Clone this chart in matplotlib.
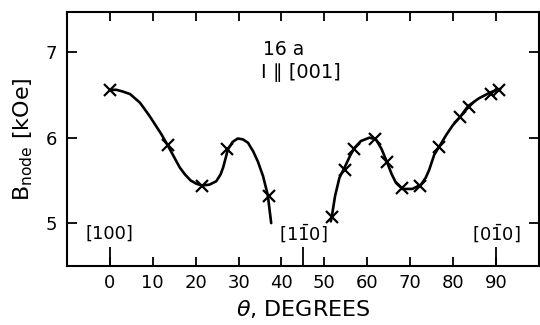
# B_node vs angle, sample 16a, I || [001]

import matplotlib
matplotlib.use("Agg")
import matplotlib.pyplot as plt

# measured points (x markers)
theta_pts = [0, 13.6, 21.4, 27.2, 37.0,
             51.7, 54.8, 57.0, 61.9, 64.7, 68.2, 72.2, 76.7, 81.6, 83.7, 88.8, 90.7]
B_pts = [6.56, 5.91, 5.44, 5.87, 5.32,
         5.07, 5.62, 5.87, 5.98, 5.72, 5.41, 5.43, 5.89, 6.24, 6.36, 6.51, 6.56]

# hand drawn curves
left_theta = [0, 1.5, 3.0, 4.7, 7, 9.3, 12.0, 13.6, 15.0, 16.3, 17.5, 18.8, 20.2, 21.5,
              23.2, 24.8, 25.8, 26.4, 27.5, 28.6, 29.8, 31.0, 32.2, 33.4, 34.5, 35.7,
              36.8, 37.6]
left_B = [6.56, 6.56, 6.54, 6.51, 6.41, 6.25, 6.04, 5.90, 5.77, 5.65, 5.57, 5.50, 5.46,
          5.44, 5.45, 5.49, 5.57, 5.65, 5.86, 5.95, 5.99, 5.98, 5.94, 5.84, 5.72, 5.55,
          5.33, 5.0]

right_theta = [51.5, 51.7, 52.5, 53.5, 54.7, 56.0, 57.0, 58.5, 60.5, 62.0, 63.3, 64.7,
               65.7, 66.7, 68.2, 70.5, 72.5, 73.6, 74.4, 75.6, 76.7, 78.5, 80.0, 81.6,
               83.5, 86.0, 88.7, 91.0]
right_B = [5.02, 5.07, 5.32, 5.53, 5.65, 5.79, 5.88, 5.96, 6.00, 5.98, 5.87, 5.70,
           5.57, 5.47, 5.40, 5.40, 5.45, 5.53, 5.62, 5.80, 5.89, 6.04, 6.15, 6.24,
           6.37, 6.46, 6.53, 6.57]

x_ticks = [0, 10, 20, 30, 40, 50, 60, 70, 80, 90]
y_ticks = [5, 6, 7]
dir_pos = [0, 45, 90]
dir_labels = ['[100]', r'[1$\bar{1}$0]', r'[0$\bar{1}$0]']

plt.rcParams['font.family'] = ['DejaVu Sans']
plt.rcParams['mathtext.fontset'] = 'dejavusans'

fig = plt.figure(figsize=(5.4, 3.25), dpi=100)
ax = fig.add_axes([0.124, 0.182, 0.874, 0.781])

ax.plot(left_theta, left_B, color='black', lw=1.9, solid_capstyle='round',
        solid_joinstyle='round')
ax.plot(right_theta, right_B, color='black', lw=1.9, solid_capstyle='round',
        solid_joinstyle='round')
ax.plot(theta_pts, B_pts, ls='none', marker='x', ms=9, mew=1.6, color='black')

ax.set_xlim(-10, 100)
ax.set_ylim(4.5, 7.47)

ax.xaxis.remove_overlapping_locs = False
ax.set_xticks(x_ticks)
ax.set_xticks(dir_pos, minor=True)
ax.set_yticks(y_ticks)
ax.tick_params(axis='x', which='major', direction='in', length=6.5, width=1.3,
               top=True, labelsize=13, pad=6)
ax.tick_params(axis='x', which='minor', direction='in', length=14, width=1.3,
               top=False)
ax.tick_params(axis='y', which='major', direction='in', length=7, width=1.3,
               right=True, labelsize=13, pad=7)
for s in ax.spines.values():
    s.set_linewidth(1.5)

for p, lab in zip(dir_pos, dir_labels):
    ax.text(p, 4.87, lab, ha='center', va='center', fontsize=13)

ax.text(40.5, 7.03, '16 a', ha='center', va='center', fontsize=13.5)
ax.text(44.5, 6.76, 'I \u2225 [001]', ha='center', va='center', fontsize=14)

ax.set_xlabel(r'$\theta$, DEGREES', fontsize=16, labelpad=4)
ax.set_ylabel(r'B$_{\rm node}$ [kOe]', fontsize=16, labelpad=8)

fig.savefig('out.png', dpi=100)
